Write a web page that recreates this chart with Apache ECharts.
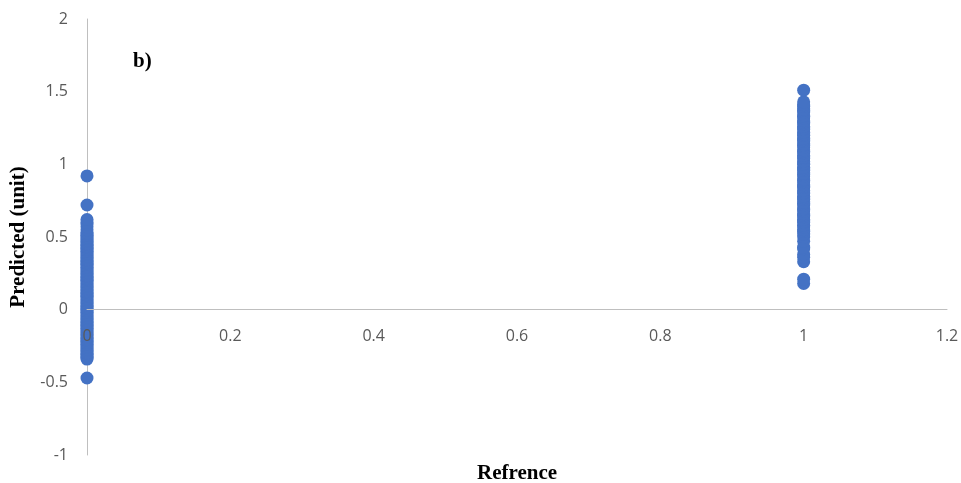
<!DOCTYPE html>
<html>
<head>
<meta charset="utf-8">
<script src="https://cdn.jsdelivr.net/npm/echarts@6/dist/echarts.min.js"></script>
<style>html,body{margin:0;padding:0;background:#fff}#c{width:961px;height:483px}</style>
</head>
<body>
<div id="c"></div>
<script>
const xTicks = [0, 0.2, 0.4, 0.6, 0.8, 1, 1.2];
const yTicks = [-1, -0.5, 0, 0.5, 1, 1.5, 2];
const refZero = 0;
const refOne = 1;
const predAtZero = [-0.47, -0.34, -0.33, -0.32, -0.31, -0.30, -0.29, -0.28, -0.27, -0.26, -0.25, -0.24,
  -0.23, -0.22, -0.21, -0.20, -0.19, -0.18, -0.17, -0.16, -0.15, -0.14, -0.13, -0.12, -0.11, -0.10,
  -0.09, -0.08, -0.07, -0.06, -0.05, -0.04, -0.03, -0.02, -0.01, 0.00, 0.01, 0.02, 0.03, 0.04, 0.05,
  0.06, 0.07, 0.08, 0.09, 0.10, 0.11, 0.12, 0.13, 0.14, 0.15, 0.16, 0.17, 0.18, 0.19, 0.20, 0.21, 0.22,
  0.23, 0.24, 0.25, 0.26, 0.27, 0.28, 0.29, 0.30, 0.31, 0.32, 0.33, 0.34, 0.35, 0.36, 0.37, 0.38, 0.39,
  0.40, 0.41, 0.42, 0.43, 0.44, 0.45, 0.46, 0.47, 0.48, 0.49, 0.50, 0.51, 0.52, 0.53, 0.55, 0.57, 0.59,
  0.60, 0.62, 0.72, 0.92];
const predAtOne = [0.18, 0.21, 0.33, 0.36, 0.38, 0.42, 0.43, 0.47, 0.50, 0.52, 0.54, 0.55, 0.57, 0.58,
  0.60, 0.61, 0.62, 0.64, 0.65, 0.66, 0.68, 0.69, 0.70, 0.72, 0.73, 0.74, 0.76, 0.77, 0.78, 0.80, 0.81,
  0.82, 0.84, 0.85, 0.86, 0.88, 0.89, 0.90, 0.92, 0.93, 0.94, 0.96, 0.97, 0.98, 1.00, 1.01, 1.02, 1.04,
  1.05, 1.06, 1.08, 1.09, 1.10, 1.12, 1.13, 1.14, 1.16, 1.17, 1.18, 1.20, 1.21, 1.22, 1.24, 1.25, 1.26,
  1.28, 1.29, 1.30, 1.32, 1.33, 1.34, 1.36, 1.37, 1.38, 1.40, 1.41, 1.43, 1.51];

const points = predAtZero.map(v => [refZero, v]).concat(predAtOne.map(v => [refOne, v]));
const labelColor = '#595959';
const axisColor = '#BFBFBF';
const gridTop = 19, gridBottom = 28, chartH = 483;
const plotH = chartH - gridTop - gridBottom;
const zeroOffset = plotH * (0 - yTicks[0]) / (yTicks[yTicks.length - 1] - yTicks[0]);

const chart = echarts.init(document.getElementById('c'), null, {renderer: 'canvas'});
chart.setOption({
  animation: false,
  grid: {left: 87, right: 14, top: gridTop, bottom: gridBottom, containLabel: false, outerBoundsMode: 'none'},
  title: {
    text: 'b)', left: 128, top: 46,
    textStyle: {fontFamily: 'Liberation Serif', fontWeight: 'bold', fontSize: 21, color: '#000'}
  },
  xAxis: {
    type: 'value', min: xTicks[0], max: xTicks[xTicks.length - 1], interval: 0.2,
    offset: -zeroOffset, z: 5,
    axisLine: {onZero: false, lineStyle: {color: axisColor, width: 1}},
    axisTick: {show: false},
    splitLine: {show: false},
    axisLabel: {color: labelColor, fontFamily: 'Open Sans', fontSize: 16, margin: 19}
  },
  yAxis: {
    type: 'value', min: yTicks[0], max: yTicks[yTicks.length - 1], interval: 0.5,
    axisLine: {show: true, onZero: false, lineStyle: {color: axisColor, width: 1}},
    axisTick: {show: false},
    splitLine: {show: false},
    axisLabel: {color: labelColor, fontFamily: 'Open Sans', fontSize: 16, margin: 19},
    name: 'Predicted (unit)', nameLocation: 'middle', nameGap: 55, nameRotate: 90,
    nameTextStyle: {fontFamily: 'Liberation Serif', fontWeight: 'bold', fontSize: 21, color: '#000'}
  },
  graphic: [{
    type: 'text', left: 477, top: 463,
    style: {text: 'Refrence', font: 'bold 21px "Liberation Serif"', fill: '#000'}
  }],
  series: [{
    type: 'scatter', data: points, symbolSize: 13,
    itemStyle: {color: '#4472C4', opacity: 1}
  }]
});
</script>
</body>
</html>
